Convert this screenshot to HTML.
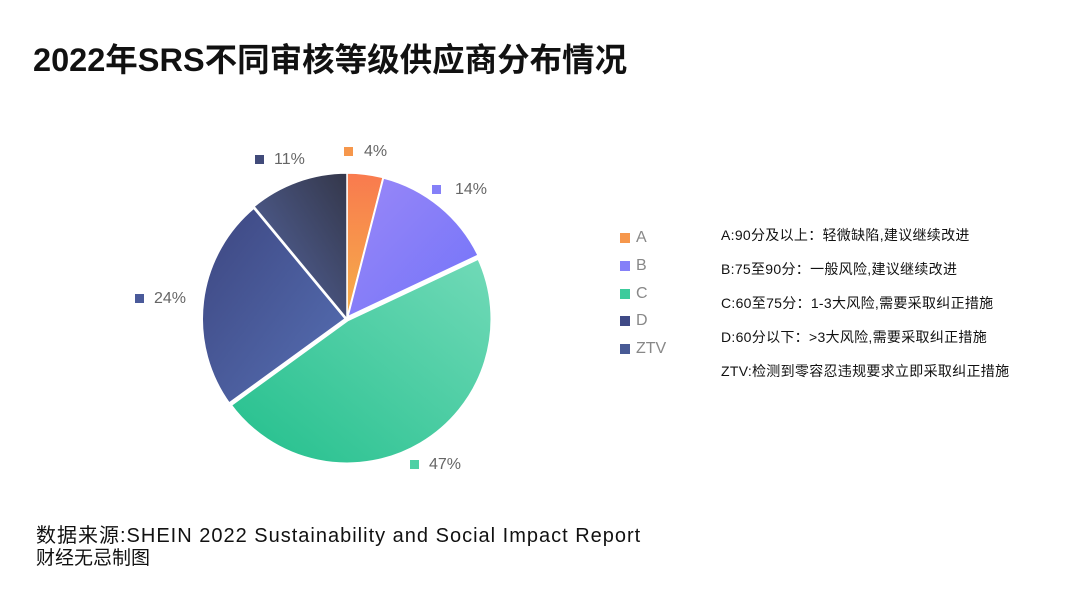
<!DOCTYPE html>
<html><head><meta charset="utf-8"><style>
body{margin:0;width:1080px;height:592px;background:#fff;overflow:hidden;font-family:"Liberation Sans","Noto Sans CJK SC",sans-serif;}
.t{position:absolute;white-space:nowrap}
</style></head><body>
<svg width="1080" height="592" style="position:absolute;left:0;top:0">
<defs>
<linearGradient id="gA" x1="0" y1="0" x2="0" y2="1"><stop offset="0" stop-color="#f97a4e"/><stop offset="1" stop-color="#f5b04a"/></linearGradient>
<linearGradient id="gB" x1="0" y1="0" x2="1" y2="1"><stop offset="0" stop-color="#9a88f8"/><stop offset="1" stop-color="#7273f9"/></linearGradient>
<linearGradient id="gC" x1="1" y1="0" x2="0" y2="1"><stop offset="0" stop-color="#72dab8"/><stop offset="1" stop-color="#22bf8c"/></linearGradient>
<linearGradient id="gD" x1="0" y1="0" x2="1" y2="1"><stop offset="0" stop-color="#3d4680"/><stop offset="1" stop-color="#5670b5"/></linearGradient>
<linearGradient id="gZ" x1="1" y1="0" x2="0" y2="1"><stop offset="0" stop-color="#34374a"/><stop offset="1" stop-color="#5668a5"/></linearGradient>
</defs>
<g stroke="#fff" stroke-width="4" stroke-linejoin="round">
<path d="M347,319 L347,173 A146,146 0 0 1 383.3,177.6 Z" fill="url(#gA)" stroke-width="1.5"/>
<path d="M347,319 L383.3,177.6 A146,146 0 0 1 479.1,256.8 Z" fill="url(#gB)" stroke-width="2"/>
<path d="M347,319 L479.1,256.8 A146,146 0 0 1 228.9,404.8 Z" fill="url(#gC)" stroke-width="5"/>
<path d="M347,319 L228.9,404.8 A146,146 0 0 1 253.9,206.5 Z" fill="url(#gD)"/>
<path d="M347,319 L253.9,206.5 A146,146 0 0 1 347,173 Z" fill="url(#gZ)" stroke-width="1.5"/>
</g>
<rect x="344" y="147" width="9" height="9" fill="#f6974c"/>
<rect x="432" y="185" width="9" height="9" fill="#8580f8"/>
<rect x="410" y="460" width="9" height="9" fill="#4fd0a5"/>
<rect x="135" y="294" width="9" height="9" fill="#4a5a9a"/>
<rect x="255" y="155" width="9" height="9" fill="#414b7a"/>
<rect x="620" y="233" width="10" height="10" fill="#f6974c"/>
<rect x="620" y="261" width="10" height="10" fill="#8580f8"/>
<rect x="620" y="289" width="10" height="10" fill="#3ccb9c"/>
<rect x="620" y="316" width="10" height="10" fill="#3f4a86"/>
<rect x="620" y="344" width="10" height="10" fill="#485a95"/>
</svg>
<div class="t" style="left:33px;top:34px;font-size:32.5px;font-weight:bold;color:#111">2022年SRS不同审核等级供应商分布情况</div>
<div class="t" style="left:364px;top:143px;font-size:16px;color:#666">4%</div>
<div class="t" style="left:455px;top:181px;font-size:16px;color:#666">14%</div>
<div class="t" style="left:429px;top:456px;font-size:16px;color:#666">47%</div>
<div class="t" style="left:154px;top:290px;font-size:16px;color:#666">24%</div>
<div class="t" style="left:274px;top:151px;font-size:16px;color:#666">11%</div>
<div class="t" style="left:636px;top:229px;font-size:16px;color:#888">A</div>
<div class="t" style="left:636px;top:257px;font-size:16px;color:#888">B</div>
<div class="t" style="left:636px;top:285px;font-size:16px;color:#888">C</div>
<div class="t" style="left:636px;top:312px;font-size:16px;color:#888">D</div>
<div class="t" style="left:636px;top:340px;font-size:16px;color:#888">ZTV</div>
<div class="t" style="left:721px;top:225px;font-size:14px;letter-spacing:0.3px;color:#111">A:90分及以上：轻微缺陷,建议继续改进</div>
<div class="t" style="left:721px;top:259px;font-size:14px;letter-spacing:0.3px;color:#111">B:75至90分：一般风险,建议继续改进</div>
<div class="t" style="left:721px;top:293px;font-size:14px;letter-spacing:0.3px;color:#111">C:60至75分：1-3大风险,需要采取纠正措施</div>
<div class="t" style="left:721px;top:327px;font-size:14px;letter-spacing:0.3px;color:#111">D:60分以下：&gt;3大风险,需要采取纠正措施</div>
<div class="t" style="left:721px;top:361px;font-size:14px;letter-spacing:0.3px;color:#111">ZTV:检测到零容忍违规要求立即采取纠正措施</div>
<div class="t" style="left:36px;top:519px;font-size:20px;letter-spacing:1px;color:#111">数据来源:SHEIN 2022 Sustainability and Social Impact Report</div>
<div class="t" style="left:36px;top:543px;font-size:19px;color:#111">财经无忌制图</div>
</body></html>
